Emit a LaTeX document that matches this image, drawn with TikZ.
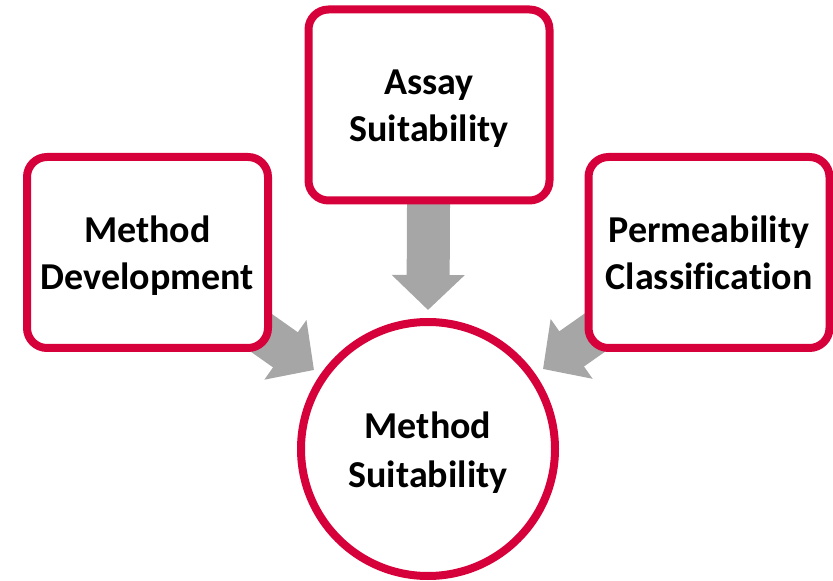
\documentclass[tikz,border=0pt]{standalone}
\usepackage{fontspec}
\setmainfont{Carlito}[Ligatures=NoCommon]
\usetikzlibrary{arrows.meta,backgrounds}
\definecolor{crimson}{HTML}{D6003A}
\definecolor{arrowgray}{HTML}{A6A6A7}

\begin{document}
\begin{tikzpicture}[x=0.75pt,y=-0.75pt,
  box/.style={draw=crimson,line width=6pt,fill=white,rounded corners=15pt,
    minimum width=180.75pt,minimum height=143.25pt,align=center,
    text height=62pt,text depth=6.5pt,
    font=\bfseries\fontsize{28.5}{35.5}\selectfont},
  hub/.style={draw=crimson,line width=6pt,fill=white,circle,minimum size=190.5pt,
    inner sep=0pt,align=center,text height=63pt,text depth=6pt,
    font=\bfseries\fontsize{28.5}{36.5}\selectfont},
  feed/.style={arrowgray,line width=32.25pt,-{Triangle[length=26.25pt,width=53.25pt]}}]
\useasboundingbox (0,0) rectangle (833,581);
\node[box] (dev) at (147.5,252.5) {Method\\Development};
\node[box] (assay) at (429,105) {Assay\\Suitability};
\node[box] (perm) at (709,252.5) {Permeability\\Classification};
\node[hub] (suit) at (428,449) {Method\\Suitability};
\coordinate (tipdev) at (314,370);
\coordinate (tipassay) at (428,310);
\coordinate (tipperm) at (543,369);
% block arrows sit behind the boxes
\begin{scope}[on background layer]
\draw[feed] (dev.center) -- (tipdev);
\draw[feed] (assay.center) -- (tipassay);
\draw[feed] (perm.center) -- (tipperm);
\end{scope}
\end{tikzpicture}
\end{document}
